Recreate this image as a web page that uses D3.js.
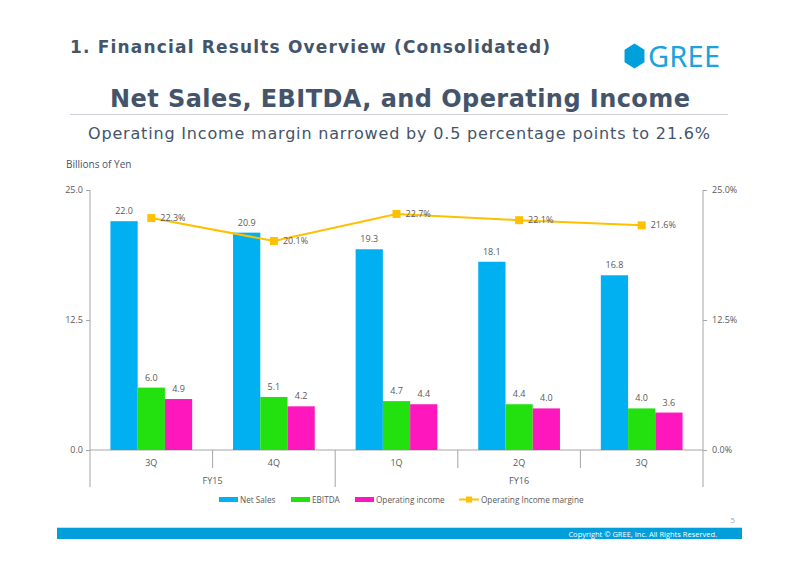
<!DOCTYPE html>
<html>
<head>
<meta charset="utf-8">
<script src="https://cdn.jsdelivr.net/npm/d3@7"></script>
<style>
  body { margin: 0; background: #fff; }
  svg { display: block; }
</style>
</head>
<body>
<div id="chart"></div>
<script>
// Chart values
let quarters = ['3Q', '4Q', '1Q', '2Q', '3Q']
let fiscalYears = [{ label: 'FY15', from: 0, to: 2 }, { label: 'FY16', from: 2, to: 5 }]
let netSales = [22.0, 20.9, 19.3, 18.1, 16.8]
let ebitda = [6.0, 5.1, 4.7, 4.4, 4.0]
let opIncome = [4.9, 4.2, 4.4, 4.0, 3.6]
let opMargin = [22.3, 20.1, 22.7, 22.1, 21.6]
let leftTicks = [0, 12.5, 25]
let rightTicks = [0, 12.5, 25]
let seriesNames = ['Net Sales', 'EBITDA', 'Operating income']
let lineName = 'Operating Income margine'

let svgWidth = 800, svgHeight = 565
let plot = { left: 90, right: 703, top: 190, bottom: 450 }
let colors = { 'Net Sales': '#00b0f0', 'EBITDA': '#22e10f', 'Operating income': '#ff17be' }
let lineColor = '#ffc000'
let textColor = '#44546a'
let labelColor = '#595959'
let chartFont = '"Open Sans", "Noto Sans", sans-serif'

let svg = d3.select('#chart')
    .append('svg')
    .attr('width', svgWidth)
    .attr('height', svgHeight)

// Header
svg.append('text')
    .attr('x', 70).attr('y', 53)
    .attr('font-family', '"DejaVu Sans", Verdana, sans-serif')
    .attr('font-weight', 'bold')
    .attr('font-size', 17)
    .attr('fill', textColor)
    .attr('textLength', 480)
    .text('1. Financial Results Overview (Consolidated)')

// GREE logo
let hex = d3.range(6).map(i => {
    let a = Math.PI / 3 * i + Math.PI / 6
    return [634.5 + 11.5 * Math.cos(a), 56 + 12.5 * Math.sin(a)]
})
svg.append('polygon')
    .attr('points', hex.map(p => p.join(',')).join(' '))
    .attr('fill', '#00a0dc')
svg.append('text')
    .attr('x', 648).attr('y', 67)
    .attr('font-family', '"Noto Sans", sans-serif')
    .attr('font-size', 29)
    .attr('fill', '#1aa3dc')
    .attr('textLength', 72)
    .text('GREE')

// Title
svg.append('text')
    .attr('x', 400).attr('y', 107)
    .attr('text-anchor', 'middle')
    .attr('font-family', '"DejaVu Sans", Verdana, sans-serif')
    .attr('font-weight', 'bold')
    .attr('font-size', 24)
    .attr('fill', textColor)
    .attr('textLength', 580)
    .text('Net Sales, EBITDA, and Operating Income')

svg.append('line')
    .attr('x1', 70).attr('x2', 728)
    .attr('y1', 114.5).attr('y2', 114.5)
    .attr('stroke', '#d0d0da')

svg.append('text')
    .attr('x', 399).attr('y', 139)
    .attr('text-anchor', 'middle')
    .attr('font-family', '"DejaVu Sans", Verdana, sans-serif')
    .attr('font-size', 16)
    .attr('fill', textColor)
    .attr('textLength', 622)
    .text('Operating Income margin narrowed by 0.5 percentage points to 21.6%')

svg.append('text')
    .attr('x', 66).attr('y', 168)
    .attr('font-family', chartFont)
    .attr('font-size', 10)
    .attr('fill', textColor)
    .text('Billions of Yen')

// Scales
let x = d3.scaleBand()
    .domain(d3.range(quarters.length))
    .range([plot.left, plot.right])
let inner = d3.scaleBand()
    .domain(seriesNames)
    .range([0, x.bandwidth()])
    .paddingOuter(0.75)
    .paddingInner(0)
let y = d3.scaleLinear().domain([0, 25]).range([plot.bottom, plot.top])
let y2 = d3.scaleLinear().domain([0, 25]).range([plot.bottom, plot.top])

let g = svg.append('g')

// Left axis
let leftAxis = g.append('g')
    .attr('transform', 'translate(' + plot.left + ',0)')
    .call(d3.axisLeft(y).tickValues(leftTicks).tickFormat(d3.format('.1f')).tickSize(4).tickSizeOuter(0))
leftAxis.select('.domain').remove()
leftAxis.selectAll('line').attr('stroke', '#a6a6a6')
leftAxis.selectAll('text').attr('fill', labelColor).attr('font-family', chartFont).attr('font-size', 9).attr('x', -7)

// Right axis
let rightAxis = g.append('g')
    .attr('transform', 'translate(' + plot.right + ',0)')
    .call(d3.axisRight(y2).tickValues(rightTicks).tickFormat(d => d3.format('.1f')(d) + '%').tickSize(4).tickSizeOuter(0))
rightAxis.select('.domain').remove()
rightAxis.selectAll('line').attr('stroke', '#a6a6a6')
rightAxis.selectAll('text').attr('fill', labelColor).attr('font-family', chartFont).attr('font-size', 9).attr('x', 9)

// Vertical axis lines and category dividers
g.append('line')
    .attr('x1', plot.left).attr('x2', plot.left)
    .attr('y1', plot.top).attr('y2', 487)
    .attr('stroke', '#a6a6a6')
g.append('line')
    .attr('x1', plot.right).attr('x2', plot.right)
    .attr('y1', plot.top).attr('y2', 487)
    .attr('stroke', '#a6a6a6')
g.append('line')
    .attr('x1', plot.left).attr('x2', plot.right)
    .attr('y1', plot.bottom).attr('y2', plot.bottom)
    .attr('stroke', '#a6a6a6')
d3.range(1, quarters.length).forEach(i => {
    let isYearEdge = fiscalYears.some(f => f.from === i)
    g.append('line')
        .attr('x1', x(i)).attr('x2', x(i))
        .attr('y1', plot.bottom).attr('y2', isYearEdge ? 487 : 468)
        .attr('stroke', '#a6a6a6')
})

// Category labels
g.selectAll('.qlabel')
    .data(quarters)
    .enter().append('text')
    .attr('x', (d, i) => x(i) + x.bandwidth() / 2)
    .attr('y', 466)
    .attr('text-anchor', 'middle')
    .attr('font-family', chartFont)
    .attr('font-size', 9)
    .attr('fill', labelColor)
    .text(d => d)
g.selectAll('.fylabel')
    .data(fiscalYears)
    .enter().append('text')
    .attr('x', d => (x(d.from) + x(d.to - 1) + x.bandwidth()) / 2)
    .attr('y', 484)
    .attr('text-anchor', 'middle')
    .attr('font-family', chartFont)
    .attr('font-size', 9)
    .attr('fill', labelColor)
    .text(d => d.label)

// Bars
let seriesData = { 'Net Sales': netSales, 'EBITDA': ebitda, 'Operating income': opIncome }
seriesNames.forEach(name => {
    let vals = seriesData[name]
    g.selectAll(null)
        .data(vals)
        .enter().append('rect')
        .attr('x', (d, i) => x(i) + inner(name))
        .attr('width', inner.bandwidth())
        .attr('y', d => y(d))
        .attr('height', d => y(0) - y(d))
        .attr('fill', colors[name])
    g.selectAll(null)
        .data(vals)
        .enter().append('text')
        .attr('x', (d, i) => x(i) + inner(name) + inner.bandwidth() / 2)
        .attr('y', d => y(d) - 7)
        .attr('text-anchor', 'middle')
        .attr('font-family', chartFont)
        .attr('font-size', 9)
        .attr('fill', labelColor)
        .text(d => d3.format('.1f')(d))
})

// Margin line
let line = d3.line()
    .x((d, i) => x(i) + x.bandwidth() / 2)
    .y(d => y2(d))
g.append('path')
    .datum(opMargin)
    .attr('fill', 'none')
    .attr('stroke', lineColor)
    .attr('stroke-width', 2)
    .attr('d', line)
g.selectAll('.marker')
    .data(opMargin)
    .enter().append('rect')
    .attr('x', (d, i) => x(i) + x.bandwidth() / 2 - 4)
    .attr('y', d => y2(d) - 4)
    .attr('width', 8).attr('height', 8)
    .attr('fill', lineColor)
g.selectAll('.mlabel')
    .data(opMargin)
    .enter().append('text')
    .attr('x', (d, i) => x(i) + x.bandwidth() / 2 + 9)
    .attr('y', d => y2(d) + 3)
    .attr('font-family', chartFont)
    .attr('font-size', 9)
    .attr('fill', labelColor)
    .text(d => d3.format('.1f')(d) + '%')

// Legend
let legend = svg.append('g').attr('font-family', chartFont).attr('font-size', 8.2).attr('fill', labelColor)
let legendX = [219, 291, 355]
seriesNames.forEach((name, i) => {
    legend.append('rect')
        .attr('x', legendX[i]).attr('y', 497)
        .attr('width', 19).attr('height', 5)
        .attr('fill', colors[name])
    legend.append('text')
        .attr('x', legendX[i] + 21).attr('y', 503)
        .text(name)
})
legend.append('line')
    .attr('x1', 459).attr('x2', 479)
    .attr('y1', 499.5).attr('y2', 499.5)
    .attr('stroke', lineColor).attr('stroke-width', 2)
legend.append('rect')
    .attr('x', 466).attr('y', 496.5)
    .attr('width', 6).attr('height', 6)
    .attr('fill', lineColor)
legend.append('text')
    .attr('x', 481).attr('y', 503)
    .text(lineName)

// Footer
svg.append('text')
    .attr('x', 735).attr('y', 523)
    .attr('text-anchor', 'end')
    .attr('font-family', chartFont)
    .attr('font-size', 8)
    .attr('fill', '#a6a6a6')
    .text('5')
svg.append('rect')
    .attr('x', 57).attr('y', 527)
    .attr('width', 685).attr('height', 1)
    .attr('fill', '#b8e2f4')
svg.append('rect')
    .attr('x', 57).attr('y', 528)
    .attr('width', 685).attr('height', 11)
    .attr('fill', '#009fdb')
svg.append('text')
    .attr('x', 717).attr('y', 536.5)
    .attr('text-anchor', 'end')
    .attr('font-family', chartFont)
    .attr('font-size', 7.5)
    .attr('fill', '#ffffff')
    .text('Copyright \u00a9 GREE, Inc. All Rights Reserved.')
</script>
</body>
</html>
